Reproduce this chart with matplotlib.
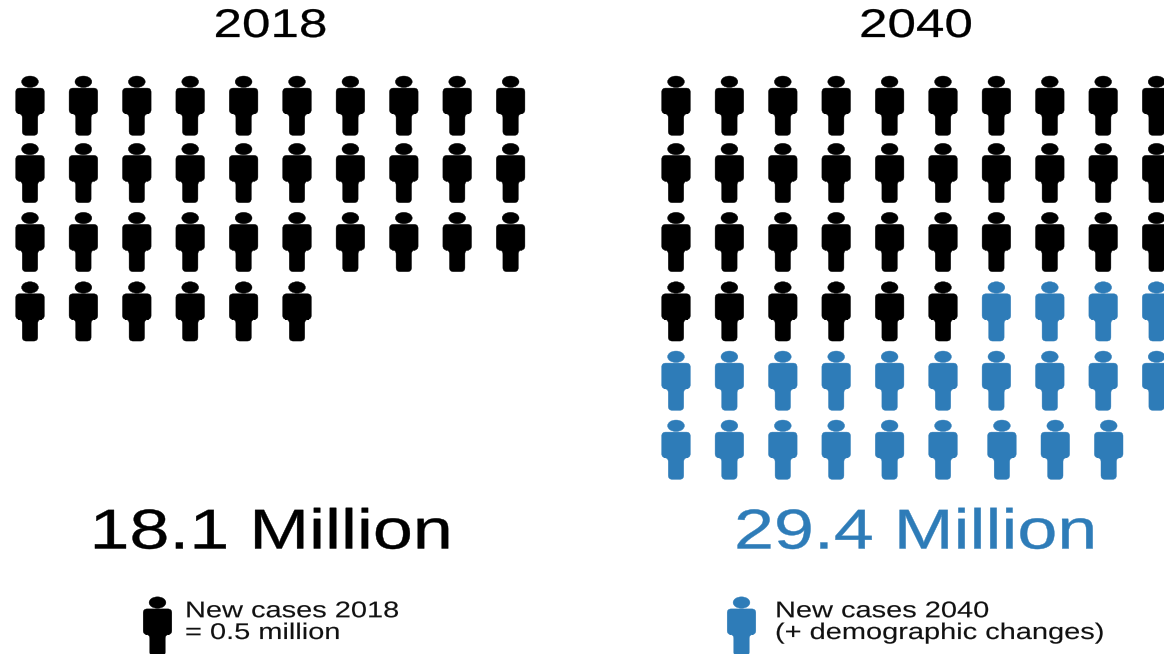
import numpy as np
import matplotlib
matplotlib.use("Agg")
import matplotlib.pyplot as plt
from matplotlib.path import Path
from matplotlib.patheffects import AbstractPathEffect
from matplotlib.transforms import Affine2D

years = ["2018", "2040"]
totals = [18.1, 29.4]
per_icon = 0.5
legend_lines = ["New cases 2018\n= 0.5 million", "New cases 2040\n(+ demographic changes)"]

black = "#000000"
blue = "#2E7CB8"

plt.rcParams["font.family"] = ["Liberation Sans", "DejaVu Sans"]


class WideText(AbstractPathEffect):
    # the lettering in this figure is wider and a bit heavier than the font,
    # so stretch it sideways and add a thin outline in the text colour
    def __init__(self, sx, weight=0.0):
        self.sx = sx
        self.weight = weight

    def draw_path(self, renderer, gc, tpath, affine, rgbFace=None):
        gc0 = renderer.new_gc()
        gc0.copy_properties(gc)
        gc0.set_foreground(rgbFace)
        gc0.set_linewidth(self.weight)
        renderer.draw_path(gc0, tpath, Affine2D().scale(self.sx, 1) + affine, rgbFace)
        gc0.restore()


def rounded(pts, r):
    # closed polygon with quadratic rounded corners
    verts, codes = [], []
    n = len(pts)
    for i in range(n):
        p = np.array(pts[i], float)
        a = np.array(pts[i - 1], float)
        b = np.array(pts[(i + 1) % n], float)
        p1 = p + (a - p) / np.linalg.norm(a - p) * r
        p2 = p + (b - p) / np.linalg.norm(b - p) * r
        verts += [p1, p, p2]
        codes += [Path.MOVETO if i == 0 else Path.LINETO, Path.CURVE3, Path.CURVE3]
    verts.append(verts[0])
    codes.append(Path.CLOSEPOLY)
    return verts, codes


def person_marker():
    # y points up, origin at the middle of the figure, 59.3 tall
    body = [(-14.3, 17.6), (14.3, 17.6), (14.3, -8.0), (7.7, -8.0),
            (7.7, -29.65), (-7.7, -29.65), (-7.7, -8.0), (-14.3, -8.0)]
    v, c = rounded(body, 4.0)
    head = Path.unit_circle()
    v += list(head.vertices * [8.4, 5.7] + [0, 23.95])
    c += list(head.codes)
    return Path(np.array(v), c)


person = person_marker()
icon_s = (59.3 * 0.72) ** 2

fig = plt.figure(figsize=(11.64, 6.54), dpi=100)
ax = fig.add_axes([0, 0, 1, 1])
ax.set_xlim(0, 1164)
ax.set_ylim(654, 0)
ax.axis("off")

panel_x = [30.0, 676.0]
dx = 53.4
row_y = np.array([105.7, 173.0, 242.0, 311.4, 380.7, 449.7])
per_row = 10
last_row_shift = 5.5  # the last few icons of 2040 sit slightly to the right

counts = [int(round(t / per_icon)) for t in totals]
base_count = counts[0]

for k, count in enumerate(counts):
    idx = np.arange(count)
    rows = idx // per_row
    cols = idx % per_row
    xs = panel_x[k] + cols * dx
    if k == 1:
        xs = xs + np.where(idx >= 56, last_row_shift, 0)
    ys = row_y[rows]
    colors = [black if i < base_count else blue for i in idx]
    ax.scatter(xs, ys, s=icon_s, marker=person, c=colors, edgecolors="face", linewidths=0.3)

title_x = [213.5, 859]
total_x = [89.5, 734]
total_colors = [black, blue]
legend_icon_x = [157, 741]
legend_text_x = [185, 775]

for k in range(2):
    ax.text(title_x[k], 37, years[k], fontsize=28.8, color=black, ha="left", va="baseline",
            path_effects=[WideText(1.28, 0.2)])
    ax.text(total_x[k], 548.5, f"{totals[k]} Million", fontsize=40.4, color=total_colors[k],
            ha="left", va="baseline", path_effects=[WideText(1.28, 0.3)])
    ax.scatter([legend_icon_x[k]], [625.6], s=icon_s, marker=person, c=total_colors[k],
               edgecolors="face", linewidths=0.3, clip_on=True)
    ax.text(legend_text_x[k], 639, legend_lines[k], fontsize=16.3, color="#111111", ha="left",
            va="baseline", linespacing=0.93, multialignment="left", path_effects=[WideText(1.28, 0.1)])

fig.savefig("out.png", dpi=100)
